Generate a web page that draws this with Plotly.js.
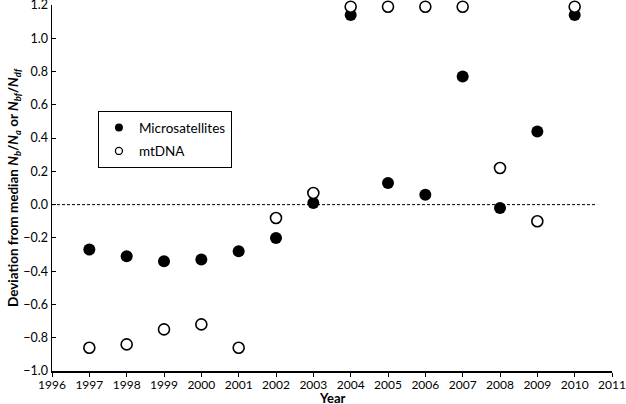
<!DOCTYPE html>
<html>
<head>
<meta charset="utf-8">
<script src="https://cdn.plot.ly/plotly-3.0.1.min.js"></script>
<style>
  html, body { margin: 0; padding: 0; background: #fff; }
  #plot { width: 626px; height: 404px; }
</style>
</head>
<body>
<div id="plot"></div>
<script>
var years = [1997, 1998, 1999, 2000, 2001, 2002, 2003, 2004, 2005, 2006, 2007, 2008, 2009, 2010];
var microsatellites = [-0.27, -0.31, -0.34, -0.33, -0.28, -0.2, 0.01, 1.14, 0.13, 0.06, 0.77, -0.02, 0.44, 1.14];
var mtDNA = [-0.86, -0.84, -0.75, -0.72, -0.86, -0.08, 0.07, 1.19, 1.19, 1.19, 1.19, 0.22, -0.1, 1.19];
var xTicks = [1996, 1997, 1998, 1999, 2000, 2001, 2002, 2003, 2004, 2005, 2006, 2007, 2008, 2009, 2010, 2011];
var yTicks = [-1.0, -0.8, -0.6, -0.4, -0.2, 0.0, 0.2, 0.4, 0.6, 0.8, 1.0, 1.2];

var font = 'Lato, sans-serif';

var msTrace = {
    x: years,
    y: microsatellites,
    mode: 'markers',
    type: 'scatter',
    name: 'Microsatellites',
    showlegend: false,
    cliponaxis: false,
    marker: { size: 12, color: 'black' }
};

var mtTrace = {
    x: years,
    y: mtDNA,
    mode: 'markers',
    type: 'scatter',
    name: 'mtDNA',
    showlegend: false,
    cliponaxis: false,
    marker: { size: 11, color: 'white', line: { color: 'black', width: 1.6 } }
};

// legend entries with smaller symbols
var msLegend = {
    x: [null], y: [null], mode: 'markers', type: 'scatter',
    name: 'Microsatellites', legendgroup: 'ms',
    marker: { size: 8, color: 'black' }
};
var mtLegend = {
    x: [null], y: [null], mode: 'markers', type: 'scatter',
    name: 'mtDNA', legendgroup: 'mt',
    marker: { size: 7, color: 'white', line: { color: 'black', width: 1.3 } }
};

var layout = {
    width: 626,
    height: 404,
    margin: { l: 52, r: 14, t: 5, b: 33 },
    paper_bgcolor: 'white',
    plot_bgcolor: 'white',
    font: { family: font, size: 12, color: 'black' },
    showlegend: true,
    legend: {
        x: 0.082, y: 0.71, xanchor: 'left', yanchor: 'top',
        bordercolor: 'black', borderwidth: 1,
        font: { family: font, size: 13.5 },
        itemsizing: 'trace',
        tracegroupgap: 3,
        itemwidth: 30
    },
    xaxis: {
        range: [1996, 2011],
        tickvals: xTicks,
        ticktext: xTicks.map(String),
        showgrid: false,
        zeroline: false,
        showline: true,
        linecolor: 'black',
        linewidth: 1.5,
        ticks: 'outside',
        ticklen: 4,
        tickcolor: 'black',
        tickfont: { size: 12 },
        ticklabeloverflow: 'allow',
        ticklabelstandoff: -2
    },
    yaxis: {
        range: [-1.0, 1.2001],
        tickvals: yTicks,
        ticktext: ['\u22121.0', '\u22120.8', '\u22120.6', '\u22120.4', '\u22120.2', '0.0', '0.2', '0.4', '0.6', '0.8', '1.0', '1.2'],
        showgrid: false,
        zeroline: false,
        showline: true,
        linecolor: 'black',
        linewidth: 1.5,
        ticks: 'inside',
        ticklen: 4,
        tickcolor: 'black',
        tickfont: { size: 12.5 },
        ticklabeloverflow: 'allow',
        title: {
            text: '<b>Deviation from median <i>N</i><sub><i>b</i></sub>/<i>N</i><sub><i>a</i></sub> or <i>N</i><sub><i>bf</i></sub>/<i>N</i><sub><i>df</i></sub></b>',
            font: { size: 13.5 },
            standoff: 0
        }
    },
    annotations: [{
        text: '<b>Year</b>', xref: 'paper', yref: 'paper',
        x: 0.5, y: -0.074, xanchor: 'center', yanchor: 'middle',
        showarrow: false, font: { size: 13 }
    }],
    shapes: [{
        type: 'line', xref: 'x', yref: 'y',
        x0: 1996, x1: 2010.6, y0: 0, y1: 0,
        line: { color: 'black', width: 1, dash: '3px,2px' }
    }]
};

Plotly.newPlot('plot', [msTrace, mtTrace, msLegend, mtLegend], layout, { displayModeBar: false, staticPlot: true });
</script>
</body>
</html>
